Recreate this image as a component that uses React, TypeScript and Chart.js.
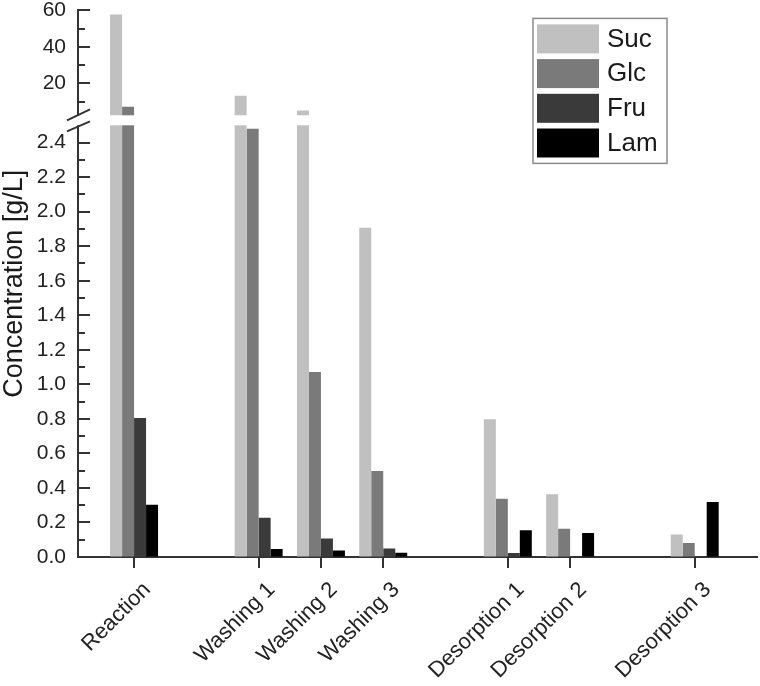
import React, { useEffect, useRef } from 'react';
import { Chart, registerables, LinearScale } from 'chart.js';

// ---------- data ----------
const categories = ['Reaction', 'Washing 1', 'Washing 2', 'Washing 3', 'Desorption 1', 'Desorption 2', 'Desorption 3'];
// slot of each stage along the x axis (empty slots separate the stages)
const slots = [0, 2, 3, 4, 6, 7, 9];
const seriesNames = ['Suc', 'Glc', 'Fru', 'Lam'];
const suc = [57.8, 13.2, 5.1, 1.907, 0.797, 0.363, 0.13];
const glc = [7.2, 2.48, 1.071, 0.498, 0.338, 0.164, 0.081];
const fru = [0.805, 0.228, 0.107, 0.049, 0.023, 0, 0];
const lam = [0.303, 0.046, 0.037, 0.025, 0.155, 0.139, 0.318];
const lowerTicks = [0, 0.2, 0.4, 0.6, 0.8, 1.0, 1.2, 1.4, 1.6, 1.8, 2.0, 2.2, 2.4];
const lowerMinorTicks = [0.1, 0.3, 0.5, 0.7, 0.9, 1.1, 1.3, 1.5, 1.7, 1.9, 2.1, 2.3];
const upperTicks = [20, 40, 60];
const upperMinorTicks = [10, 30, 50];

// ---------- styling / layout ----------
const COLORS = ['#c0c0c0', '#7a7a7a', '#3a3a3a', '#000000'];
const FONT = "'Liberation Sans', Arial, Helvetica, sans-serif";
const BREAK = 2.5;          // value where the y axis is broken
const LOWER_SHARE = 0.7898; // share of axis height for 0..BREAK
const GAP_SHARE = 0.0183;   // share of axis height for the break gap
const AXIS_COLOR = '#333333';

class BrokenLinearScale extends LinearScale {
  static id = 'brokenLinear';
  static defaults = {};

  buildTicks() {
    this.start = this.min;
    this.end = this.max;
    return [...lowerTicks, ...upperTicks].map((v) => ({ value: v }));
  }

  getPixelForValue(value: any) {
    if (value === null || value === undefined || isNaN(value)) return NaN;
    const min = this.min;
    const max = this.max;
    let dec: number;
    if (value <= BREAK) {
      dec = ((value - min) / (BREAK - min)) * LOWER_SHARE;
    } else {
      dec = LOWER_SHARE + GAP_SHARE + ((value - BREAK) / (max - BREAK)) * (1 - LOWER_SHARE - GAP_SHARE);
    }
    return this.getPixelForDecimal(dec);
  }

  getValueForPixel(pixel: number) {
    const dec = this.getDecimalForPixel(pixel);
    const min = this.min;
    const max = this.max;
    if (dec <= LOWER_SHARE) return min + (dec / LOWER_SHARE) * (BREAK - min);
    if (dec < LOWER_SHARE + GAP_SHARE) return BREAK;
    return BREAK + ((dec - LOWER_SHARE - GAP_SHARE) / (1 - LOWER_SHARE - GAP_SHARE)) * (max - BREAK);
  }
}

Chart.register(...registerables, BrokenLinearScale);

const breakPlugin = {
  id: 'breakAndTicks',
  afterDatasetsDraw(chart: any) {
    const { ctx, chartArea } = chart;
    const y = chart.scales.y;
    const left = chartArea.left;
    const lowTop = y.getPixelForDecimal(LOWER_SHARE);
    const upBottom = y.getPixelForDecimal(LOWER_SHARE + GAP_SHARE);
    ctx.save();
    // inward y tick marks
    ctx.strokeStyle = AXIS_COLOR;
    ctx.lineWidth = 2;
    const drawTick = (v: number, len: number) => {
      const py = Math.round(y.getPixelForValue(v));
      ctx.beginPath();
      ctx.moveTo(left, py);
      ctx.lineTo(left + len, py);
      ctx.stroke();
    };
    [...lowerTicks, ...upperTicks].forEach((v) => drawTick(v, 12));
    [...lowerMinorTicks, ...upperMinorTicks].forEach((v) => drawTick(v, 7));
    // gap
    ctx.fillStyle = '#ffffff';
    ctx.fillRect(left - 14, upBottom, chartArea.right - left + 14, lowTop - upBottom);
    // break marks
    ctx.strokeStyle = AXIS_COLOR;
    ctx.lineWidth = 2;
    ctx.beginPath();
    ctx.moveTo(left - 11, upBottom + 5);
    ctx.lineTo(left + 12, upBottom - 6);
    ctx.moveTo(left - 11, lowTop + 6);
    ctx.lineTo(left + 12, lowTop - 4);
    ctx.stroke();
    ctx.restore();
  },
  afterDraw(chart: any) {
    const { ctx, chartArea } = chart;
    const boxW = 134;
    const boxH = 145;
    const boxX = chartArea.right - 90 - boxW;
    const boxY = chartArea.top + 8;
    ctx.save();
    ctx.strokeStyle = '#8a8a8a';
    ctx.lineWidth = 1.5;
    ctx.strokeRect(boxX, boxY, boxW, boxH);
    ctx.font = `26px ${FONT}`;
    ctx.textBaseline = 'middle';
    ctx.textAlign = 'left';
    chart.data.datasets.forEach((ds: any, i: number) => {
      const sy = boxY + 6 + i * 34.7;
      ctx.fillStyle = ds.backgroundColor;
      ctx.fillRect(boxX + 4, sy, 62, 29);
      ctx.fillStyle = '#1a1a1a';
      ctx.fillText(ds.label, boxX + 74, sy + 15);
    });
    ctx.restore();
  },
};

export default function App() {
  const canvasRef = useRef<HTMLCanvasElement | null>(null);

  useEffect(() => {
    if (!canvasRef.current) return;
    const series = [suc, glc, fru, lam];
    const chart = new Chart(canvasRef.current, {
      type: 'bar',
      data: {
        datasets: seriesNames.map((name, k) => ({
          label: name,
          data: slots.map((x, i) => ({ x, y: series[k][i] })),
          backgroundColor: COLORS[k],
          borderWidth: 0,
          categoryPercentage: 0.77,
          barPercentage: 1,
        })),
      },
      options: {
        responsive: false,
        animation: false,
        devicePixelRatio: 1,
        layout: { padding: { left: 0, right: 3, top: 0, bottom: 0 } },
        plugins: {
          legend: { display: false },
          tooltip: { enabled: false },
        },
        scales: {
          x: {
            type: 'linear',
            min: -0.9,
            max: 10,
            offset: false,
            grid: {
              display: true,
              offset: false,
              drawOnChartArea: false,
              drawTicks: true,
              tickLength: 11,
              color: AXIS_COLOR,
              lineWidth: 2,
            },
            border: { display: true, color: AXIS_COLOR, width: 2 },
            ticks: {
              autoSkip: false,
              minRotation: 45,
              maxRotation: 45,
              padding: 9,
              labelOffset: 13,
              color: '#222222',
              font: { size: 22, family: FONT },
              callback: (v: any) => {
                const idx = slots.indexOf(Number(v));
                return idx >= 0 ? categories[idx] : '';
              },
            },
            afterBuildTicks: (s: any) => {
              s.ticks = slots.map((v) => ({ value: v }));
            },
            afterFit: (s: any) => {
              s.height = 129;
            },
          },
          y: {
            type: 'brokenLinear' as any,
            min: 0,
            max: 60,
            grid: {
              display: true,
              drawOnChartArea: false,
              drawTicks: true,
              tickLength: 10,
              color: 'rgba(0,0,0,0)',
            },
            border: { display: true, color: AXIS_COLOR, width: 2 },
            ticks: {
              autoSkip: false,
              padding: 2,
              color: '#222222',
              font: { size: 21, family: FONT, lineHeight: 0.8 },
              callback: (v: any) => {
                const n = Number(v);
                return n <= BREAK ? n.toFixed(1) : String(n);
              },
            },
            title: {
              display: true,
              text: 'Concentration [g/L]',
              color: '#1a1a1a',
              font: { size: 27, family: FONT, lineHeight: 1.05 },
              padding: 0,
            },
            afterFit: (s: any) => {
              s.width = 78;
            },
          },
        },
      } as any,
      plugins: [breakPlugin],
    });
    return () => chart.destroy();
  }, []);

  return (
    <div style={{ position: 'absolute', left: 0, top: 0, width: 760, height: 686, background: '#ffffff' }}>
      <canvas ref={canvasRef} width={760} height={686} style={{ display: 'block' }} />
    </div>
  );
}
